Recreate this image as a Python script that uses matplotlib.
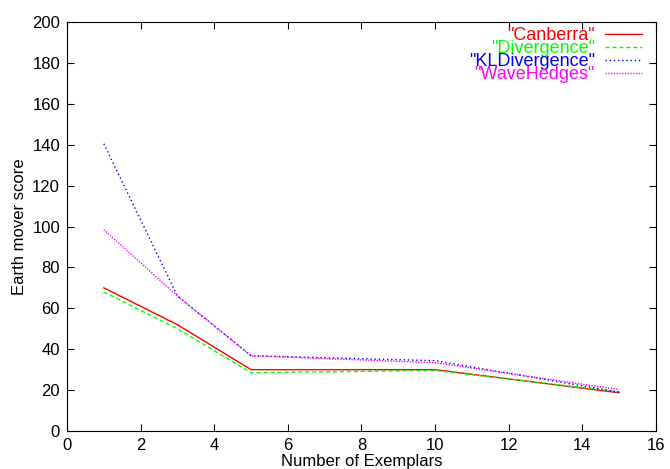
import matplotlib
matplotlib.use('Agg')
import matplotlib.pyplot as plt

plt.rcParams['font.family'] = ['Liberation Sans', 'DejaVu Sans']

exemplars = [1, 3, 5, 10, 15]
canberra = [70, 52, 30, 30, 18.7]
divergence = [68, 50, 28.5, 29.6, 19.2]
kldivergence = [140.5, 66, 36.8, 34.4, 19]
wavehedges = [98.5, 66, 36.8, 33.4, 20.3]

fig = plt.figure(figsize=(6.7, 4.69), dpi=100)
ax = fig.add_axes([0.1, 0.081, 0.879, 0.872])

ax.plot(exemplars, canberra, color='#ff0000', lw=1, ls='-', label='"Canberra"')
ax.plot(exemplars, divergence, color='#00ff00', lw=1, ls=(0, (3, 2)), label='"Divergence"')
ax.plot(exemplars, kldivergence, color='#0000ff', lw=1, ls=(0, (1, 2)), label='"KLDivergence"')
ax.plot(exemplars, wavehedges, color='#ff00ff', lw=1, ls=(0, (1, 1)), label='"WaveHedges"')

ax.set_xlim(0, 16)
ax.set_ylim(0, 200)
ax.set_xticks(range(0, 17, 2))
ax.set_yticks(range(0, 201, 20))
ax.tick_params(direction='in', top=True, right=True, length=5, labelsize=12, pad=5)
ax.set_xlabel('Number of Exemplars', fontsize=12, labelpad=1)
ax.set_ylabel('Earth mover score', fontsize=12, labelpad=4)

ax.legend(loc='upper right', bbox_to_anchor=(0.976, 0.987), frameon=False,
          markerfirst=False, fontsize=13, labelcolor='linecolor',
          labelspacing=-0.22, handlelength=2.05, handletextpad=0.55,
          borderaxespad=0, borderpad=0)

plt.savefig('out.png')
